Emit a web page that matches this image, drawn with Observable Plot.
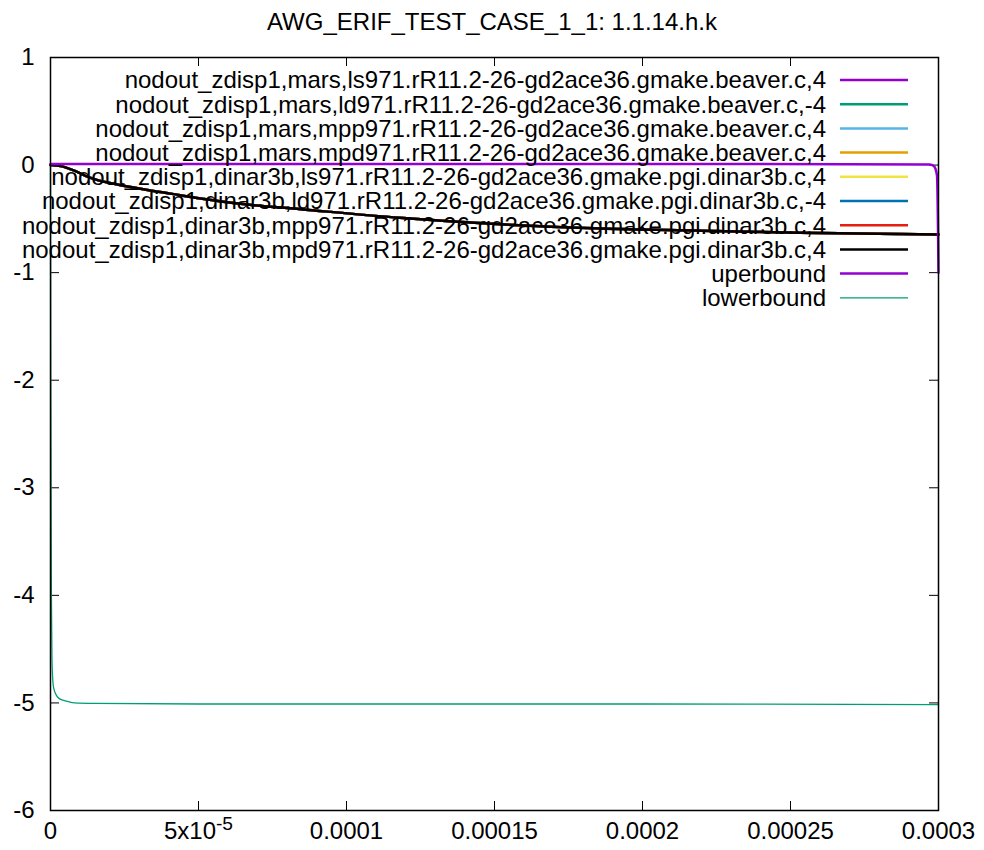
<!DOCTYPE html>
<html><head><meta charset="utf-8">
<script src="https://cdn.jsdelivr.net/npm/d3@7"></script>
<script src="https://cdn.jsdelivr.net/npm/@observablehq/plot@0.6"></script>
<style>body{margin:0;background:#fff}svg{font-family:"Liberation Sans",Arial,sans-serif}</style>
</head><body><div id="chart"></div>
<script>
const title = "AWG_ERIF_TEST_CASE_1_1: 1.1.14.h.k";
const seriesNames = [
  "nodout_zdisp1,mars,ls971.rR11.2-26-gd2ace36.gmake.beaver.c,4",
  "nodout_zdisp1,mars,ld971.rR11.2-26-gd2ace36.gmake.beaver.c,-4",
  "nodout_zdisp1,mars,mpp971.rR11.2-26-gd2ace36.gmake.beaver.c,4",
  "nodout_zdisp1,mars,mpd971.rR11.2-26-gd2ace36.gmake.beaver.c,4",
  "nodout_zdisp1,dinar3b,ls971.rR11.2-26-gd2ace36.gmake.pgi.dinar3b.c,4",
  "nodout_zdisp1,dinar3b,ld971.rR11.2-26-gd2ace36.gmake.pgi.dinar3b.c,-4",
  "nodout_zdisp1,dinar3b,mpp971.rR11.2-26-gd2ace36.gmake.pgi.dinar3b.c,4",
  "nodout_zdisp1,dinar3b,mpd971.rR11.2-26-gd2ace36.gmake.pgi.dinar3b.c,4"
];
const seriesColors = ["#9400d3","#009e73","#56b4e9","#e69f00","#f0e442","#0072b2","#e51e10","#000000"];
const boundNames = ["uperbound","lowerbound"];
const boundColors = ["#9400d3","#009e73"];

// displacement curve (all 8 runs overlap)
const tCurve = [0,3.4e-6,7.8e-6,1.18e-5,1.59e-5,2.26e-5,3.04e-5,4.16e-5,5.07e-5,6.42e-5,8.45e-5,1.18e-4,1.52e-4,1.86e-4,2.2e-4,2.53e-4,3.0e-4];
const yCurve = [0,-0.01,-0.05,-0.10,-0.14,-0.18,-0.22,-0.27,-0.31,-0.36,-0.41,-0.49,-0.55,-0.59,-0.61,-0.63,-0.645];
// bounds
const tUpper = [0,1e-4,2e-4,2.97e-4,2.985e-4,2.995e-4,3.0e-4];
const yUpper = [0.01,0.01,0.01,0.005,-0.01,-0.1,-1.0];
const tLower = [0,1e-7,3e-7,5e-7,1e-6,2e-6,3e-6,5e-6,8e-6,1.5e-5,5e-5,1e-4,2e-4,3e-4];
const yLower = [0,-2.0,-4.0,-4.6,-4.85,-4.93,-4.96,-4.98,-5.0,-5.005,-5.01,-5.01,-5.01,-5.015];

const xTicks = [0,5e-5,1e-4,1.5e-4,2e-4,2.5e-4,3e-4];
const xTickLabels = ["0","5x10^-5","0.0001","0.00015","0.0002","0.00025","0.0003"];
const yTicks = [1,0,-1,-2,-3,-4,-5,-6];

const W = 984, H = 850, mL = 50, mR = 46, mT = 57, mB = 40;
const plotW = W - mL - mR, plotH = H - mT - mB, tick = 9;
const FS = 24;

const curveRows = [];
seriesNames.forEach((s, i) => tCurve.forEach((t, j) => curveRows.push({s, t, y: yCurve[j]})));
const upperRows = tUpper.map((t, i) => ({t, y: yUpper[i]}));
const lowerRows = tLower.map((t, i) => ({t, y: yLower[i]}));

const chart = Plot.plot({
  width: W, height: H,
  marginLeft: mL, marginRight: mR, marginTop: mT, marginBottom: mB,
  style: {fontFamily: "Liberation Sans, Arial, sans-serif", fontSize: FS + "px", background: "#fff", color: "#000"},
  x: {domain: [0, 3e-4]},
  y: {domain: [-6, 1]},
  color: {domain: seriesNames, range: seriesColors},
  marks: [
    Plot.axisX({ticks: xTicks, tickSize: 0, tickPadding: 11, tickFormat: d => xTickLabels[xTicks.indexOf(d)], fontSize: FS, label: null}),
    Plot.axisY({ticks: yTicks, tickSize: 0, tickPadding: 16, tickFormat: d => d < 0 ? "-" + Math.abs(d) : String(d), fontSize: FS, label: null}),
    Plot.ruleX(xTicks, {x: d => d, insetTop: plotH - tick, stroke: "#000"}),
    Plot.ruleX(xTicks, {x: d => d, insetBottom: plotH - tick, stroke: "#000"}),
    Plot.ruleY(yTicks, {y: d => d, insetRight: plotW - tick, stroke: "#000"}),
    Plot.ruleY(yTicks, {y: d => d, insetLeft: plotW - tick, stroke: "#000"}),
    Plot.line(curveRows, {x: "t", y: "y", z: "s", stroke: "s", strokeWidth: 2.5, curve: "monotone-x"}),
    Plot.line(upperRows, {x: "t", y: "y", stroke: boundColors[0], strokeWidth: 2.5, curve: "monotone-x"}),
    Plot.line(lowerRows, {x: "t", y: "y", stroke: boundColors[1], strokeWidth: 1.3, curve: "monotone-x"}),
    Plot.frame({stroke: "#000", strokeWidth: 1.5})
  ]
});

const svg = d3.select(chart);
// superscript tick label
svg.selectAll("text").each(function() {
  const el = d3.select(this);
  if (el.text() === "5x10^-5") {
    const tsp = el.select("tspan").empty() ? el : el.select("tspan");
    tsp.text("5x10");
    tsp.append("tspan").attr("dy", "-0.45em").attr("font-size", "0.8em").text("-5");
  }
});
// title
svg.append("text").attr("x", 492).attr("y", 30).attr("text-anchor", "middle")
  .attr("font-size", FS).attr("fill", "#000").text(title);
// legend
const legNames = seriesNames.concat(boundNames);
const legColors = seriesColors.concat(boundColors);
const leg = svg.append("g");
legNames.forEach((n, i) => {
  const y = 80 + i * 24.2;
  leg.append("text").attr("x", 826).attr("y", y).attr("dy", "0.35em").attr("text-anchor", "end")
    .attr("font-size", FS).attr("fill", "#000").text(n);
  leg.append("line").attr("x1", 840).attr("x2", 908).attr("y1", y).attr("y2", y)
    .attr("stroke", legColors[i]).attr("stroke-width", i === 9 ? 1.2 : 2.5);
});
document.getElementById("chart").appendChild(chart);
</script></body></html>
